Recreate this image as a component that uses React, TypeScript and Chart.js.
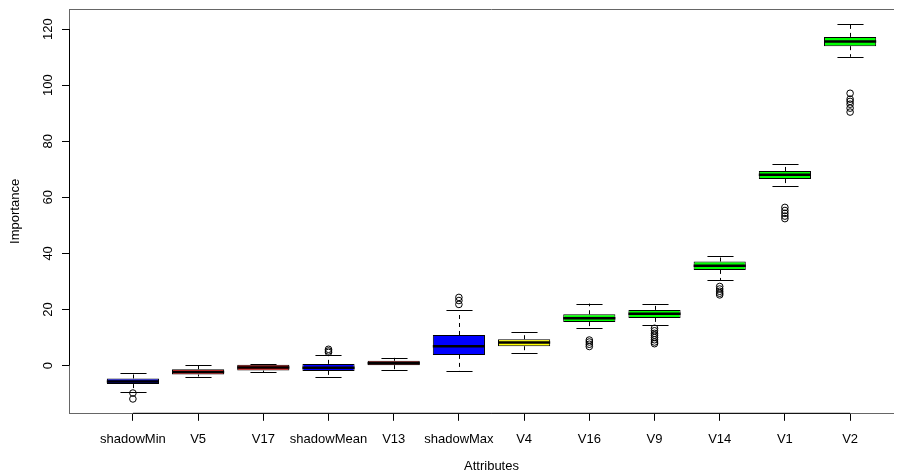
import React, { useEffect, useRef } from 'react';
import { Chart, registerables } from 'chart.js';

Chart.register(...registerables);

// ---- data ----
const categories = ['shadowMin', 'V5', 'V17', 'shadowMean', 'V13', 'shadowMax', 'V4', 'V16', 'V9', 'V14', 'V1', 'V2'];
const decisions = ['Shadow', 'Rejected', 'Rejected', 'Shadow', 'Rejected', 'Shadow', 'Tentative', 'Confirmed', 'Confirmed', 'Confirmed', 'Confirmed', 'Confirmed'];
const lowerWhisker = [-9.3, -3.9, -2.4, -4.1, -1.5, -2.0, 4.4, 13.5, 14.3, 30.4, 64.0, 110.1];
const q1 = [-6.6, -3.2, -1.8, -1.9, 0.15, 3.8, 6.9, 15.5, 17.0, 34.1, 66.5, 113.9];
const median = [-5.7, -2.3, -0.7, -0.8, 0.85, 6.9, 8.2, 16.9, 18.5, 35.6, 68.0, 115.6];
const q3 = [-4.6, -1.3, 0.25, 0.6, 1.7, 10.9, 9.4, 18.3, 19.85, 37.1, 69.4, 117.2];
const upperWhisker = [-2.6, 0.1, 0.5, 3.7, 2.75, 19.7, 11.9, 22.1, 22.0, 39.1, 71.8, 121.8];
const outliers: number[][] = [
  [-9.8, -11.9],
  [],
  [],
  [4.7, 5.2, 5.8],
  [],
  [21.8, 23.2, 24.3],
  [],
  [9.1, 8.4, 7.6, 6.8],
  [13.3, 12.4, 11.5, 10.8, 10.0, 9.2, 8.4, 7.8],
  [28.2, 27.3, 26.5, 25.8, 25.2],
  [56.4, 55.3, 54.3, 53.3, 52.4],
  [97.1, 95.0, 94.2, 93.2, 91.8, 90.4],
];
const yTicks = [0, 20, 40, 60, 80, 100, 120];
const yRange = [-17.2, 127.15];
const xRange = [0.02, 12.98];

// ---- styles ----
const decisionColor: Record<string, string> = {
  Shadow: '#0000FF',
  Rejected: '#FF0000',
  Tentative: '#FFFF00',
  Confirmed: '#00FF00',
};
const FONT = "'Liberation Sans', Arial, Helvetica, sans-serif";

export default function App() {
  const ref = useRef<HTMLCanvasElement>(null);

  useEffect(() => {
    document.documentElement.style.overflow = 'hidden';
    const canvas = ref.current;
    if (!canvas) return;

    const boxParts = {
      id: 'boxParts',
      beforeDatasetsDraw(chart: any) {
        const { ctx, scales } = chart;
        const y = scales.y;
        const meta = chart.getDatasetMeta(0);
        ctx.save();
        ctx.strokeStyle = '#000';
        ctx.lineWidth = 1;
        categories.forEach((_, i) => {
          const bar = meta.data[i];
          if (!bar) return;
          const w = bar.width;
          const cx = Math.round(bar.x) + 0.5;
          ctx.setLineDash([4, 4]);
          ctx.beginPath();
          ctx.moveTo(cx, y.getPixelForValue(q3[i]));
          ctx.lineTo(cx, y.getPixelForValue(upperWhisker[i]));
          ctx.moveTo(cx, y.getPixelForValue(q1[i]));
          ctx.lineTo(cx, y.getPixelForValue(lowerWhisker[i]));
          ctx.stroke();
          ctx.setLineDash([]);
          ctx.beginPath();
          const yu = Math.round(y.getPixelForValue(upperWhisker[i])) + 0.5;
          const yl = Math.round(y.getPixelForValue(lowerWhisker[i])) + 0.5;
          ctx.moveTo(cx - w / 4, yu);
          ctx.lineTo(cx + w / 4, yu);
          ctx.moveTo(cx - w / 4, yl);
          ctx.lineTo(cx + w / 4, yl);
          ctx.stroke();
        });
        ctx.restore();
      },
      afterDatasetsDraw(chart: any) {
        const { ctx, scales } = chart;
        const y = scales.y;
        const meta = chart.getDatasetMeta(0);
        ctx.save();
        ctx.strokeStyle = '#000';
        ctx.lineWidth = 2.5;
        categories.forEach((_, i) => {
          const bar = meta.data[i];
          if (!bar) return;
          const w = bar.width;
          const ym = y.getPixelForValue(median[i]);
          ctx.beginPath();
          ctx.moveTo(bar.x - w / 2, ym);
          ctx.lineTo(bar.x + w / 2, ym);
          ctx.stroke();
        });
        ctx.restore();
      },
      afterDraw(chart: any) {
        const { ctx, chartArea, scales } = chart;
        const x = scales.x;
        const y = scales.y;
        ctx.save();
        ctx.lineWidth = 1;
        ctx.strokeStyle = '#666';
        ctx.beginPath();
        ctx.moveTo(chartArea.left, chartArea.top + 0.5);
        ctx.lineTo(chartArea.right, chartArea.top + 0.5);
        ctx.moveTo(chartArea.right - 0.5, chartArea.top);
        ctx.lineTo(chartArea.right - 0.5, chartArea.bottom);
        ctx.stroke();
        ctx.strokeStyle = '#000';
        ctx.beginPath();
        const by = chartArea.bottom - 0.5;
        ctx.moveTo(x.getPixelForValue(1), by);
        ctx.lineTo(x.getPixelForValue(categories.length), by);
        const lx = chartArea.left + 0.5;
        ctx.moveTo(lx, y.getPixelForValue(yTicks[0]));
        ctx.lineTo(lx, y.getPixelForValue(yTicks[yTicks.length - 1]));
        ctx.stroke();
        ctx.restore();
      },
    };

    const chart = new Chart(canvas, {
      type: 'bar',
      data: {
        datasets: [
          {
            type: 'bar',
            data: categories.map((_, i) => ({ x: i + 1, y: [q1[i], q3[i]] })) as any,
            backgroundColor: decisions.map((d) => decisionColor[d]),
            borderColor: '#000',
            borderWidth: 1,
            borderSkipped: false,
            barPercentage: 0.8,
            categoryPercentage: 1,
          } as any,
          {
            type: 'scatter',
            data: outliers.flatMap((arr, i) => arr.map((v) => ({ x: i + 1, y: v }))),
            pointStyle: 'circle',
            pointRadius: 3.3,
            backgroundColor: 'rgba(0,0,0,0)',
            borderColor: '#000',
            borderWidth: 1,
          } as any,
        ],
      },
      options: {
        responsive: false,
        animation: false,
        layout: { autoPadding: false, padding: { top: 1, right: 14, left: 0, bottom: 0 } },
        plugins: { legend: { display: false }, tooltip: { enabled: false } },
        scales: {
          x: {
            type: 'linear',
            min: xRange[0],
            max: xRange[1],
            offset: false,
            grid: { display: true, drawOnChartArea: false, drawTicks: true, tickLength: 7, color: '#000', offset: false },
            border: { display: true, color: '#666' },
            ticks: {
              autoSkip: false,
              maxRotation: 0,
              minRotation: 0,
              padding: 11,
              color: '#000',
              font: { family: FONT, size: 13 },
              callback: (v: any) => categories[Math.round(Number(v)) - 1] ?? '',
            },
            afterBuildTicks: (s: any) => {
              s.ticks = categories.map((_, i) => ({ value: i + 1 }));
            },
            afterFit: (s: any) => {
              s.height = 60.2;
              s.paddingLeft = 0;
              s.paddingRight = 0;
            },
            title: {
              display: true,
              text: 'Attributes',
              color: '#000',
              font: { family: FONT, size: 13 },
              padding: { top: 0, bottom: 0 },
            },
          } as any,
          y: {
            type: 'linear',
            min: yRange[0],
            max: yRange[1],
            beginAtZero: false,
            grid: { display: true, drawOnChartArea: false, drawTicks: true, tickLength: 7, color: '#000' },
            border: { display: true, color: '#666' },
            ticks: {
              minRotation: 90,
              maxRotation: 90,
              crossAlign: 'center',
              padding: 3,
              color: '#000',
              font: { family: FONT, size: 13 },
            },
            afterBuildTicks: (s: any) => {
              s.ticks = yTicks.map((v) => ({ value: v }));
            },
            afterFit: (s: any) => {
              s.width = 61;
              s.paddingTop = 0;
              s.paddingBottom = 0;
            },
            title: {
              display: true,
              text: 'Importance',
              color: '#000',
              font: { family: FONT, size: 13 },
              padding: 0,
            },
          } as any,
        },
      },
      plugins: [boxParts],
    });

    return () => chart.destroy();
  }, []);

  return (
    <div style={{ width: 894, height: 466, overflow: 'hidden' }}>
      <canvas ref={ref} width={920} height={466} style={{ display: 'block' }} />
    </div>
  );
}
